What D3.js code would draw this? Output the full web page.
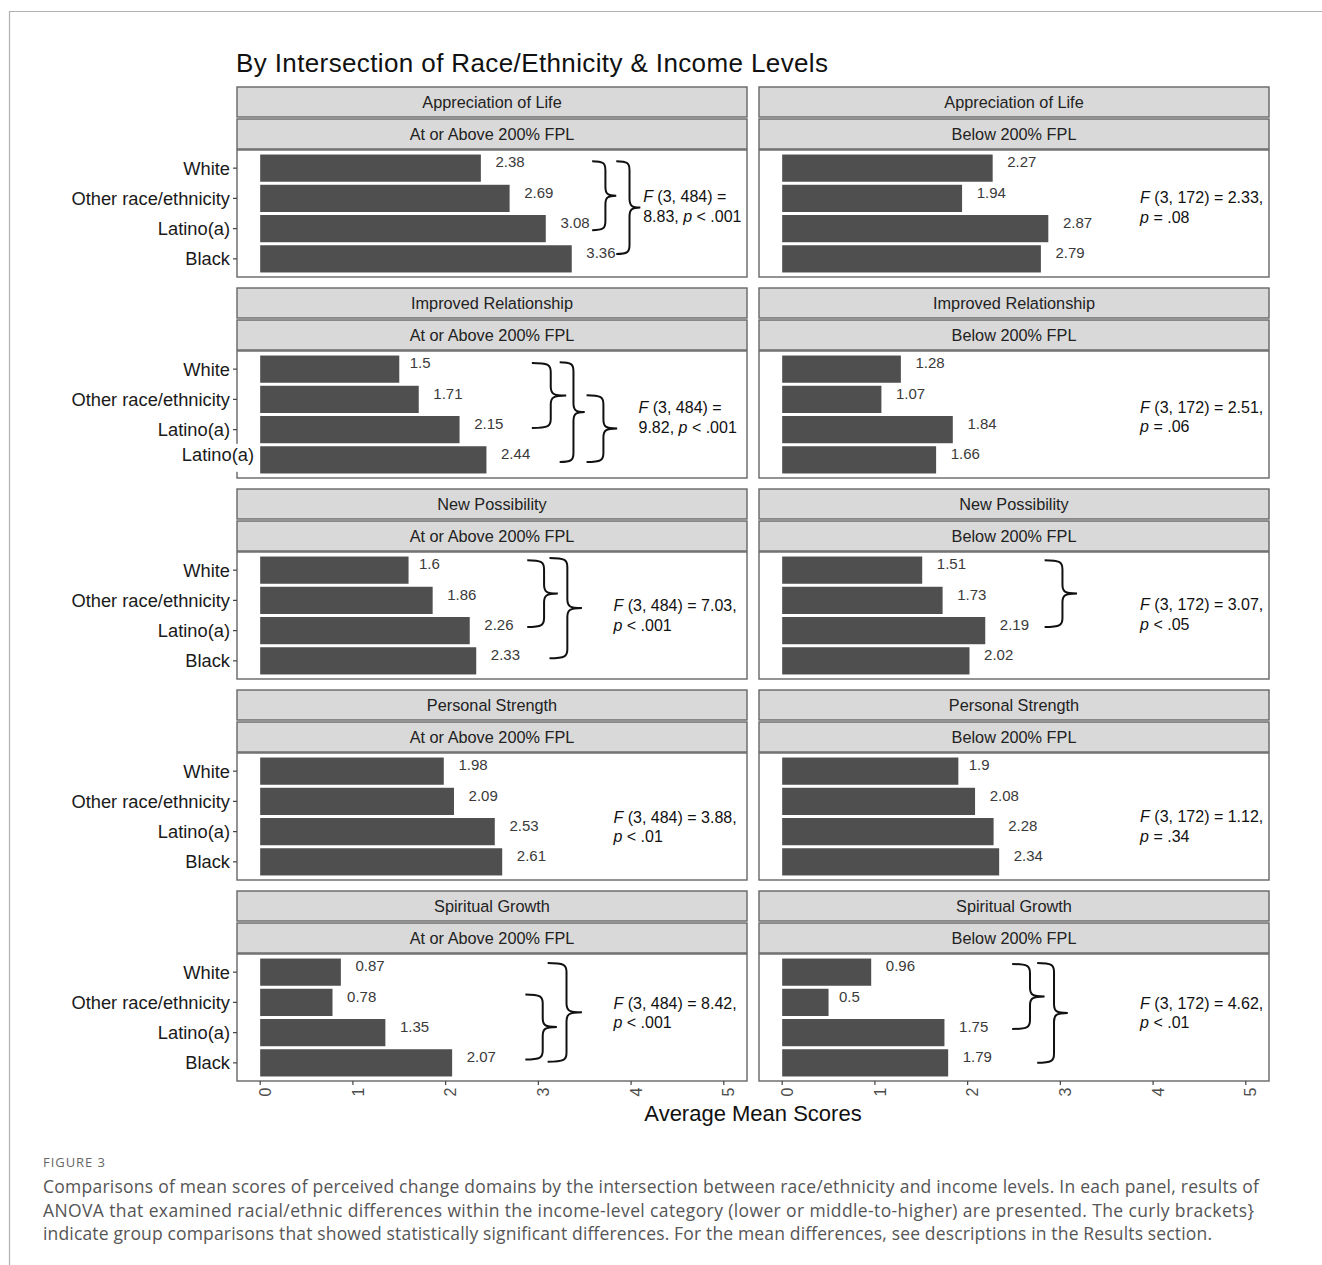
<!DOCTYPE html>
<html>
<head>
<meta charset="utf-8">
<script src="https://cdn.jsdelivr.net/npm/d3@7"></script>
<style>
  html, body { margin: 0; padding: 0; background: #fff; }
  svg { display: block; }
</style>
</head>
<body>
<svg id="chart" width="1322" height="1265"></svg>
<script>
// ---- data ----------------------------------------------------------------
const categories = ["White", "Other race/ethnicity", "Latino(a)", "Black"];
const domains = ["Appreciation of Life", "Improved Relationship", "New Possibility", "Personal Strength", "Spiritual Growth"];
const incomeLevels = ["At or Above 200% FPL", "Below 200% FPL"];

// mean scores, one row per domain, in category order
const aboveFPL = [
  [2.38, 2.69, 3.08, 3.36],
  [1.5, 1.71, 2.15, 2.44],
  [1.6, 1.86, 2.26, 2.33],
  [1.98, 2.09, 2.53, 2.61],
  [0.87, 0.78, 1.35, 2.07]
];
const belowFPL = [
  [2.27, 1.94, 2.87, 2.79],
  [1.28, 1.07, 1.84, 1.66],
  [1.51, 1.73, 2.19, 2.02],
  [1.9, 2.08, 2.28, 2.34],
  [0.96, 0.5, 1.75, 1.79]
];

// y tick labels printed for each domain row (the relationship row repeats "Latino(a)")
const rowTickLabels = [
  categories,
  ["White", "Other race/ethnicity", "Latino(a)", "Latino(a)"],
  categories,
  categories,
  categories
];

const xTicks = [0, 1, 2, 3, 4, 5];

// ANOVA results per domain
const anovaAbove = [
  ["F (3, 484) =", "8.83, p < .001"],
  ["F (3, 484) =", "9.82, p < .001"],
  ["F (3, 484) = 7.03,", "p < .001"],
  ["F (3, 484) = 3.88,", "p < .01"],
  ["F (3, 484) = 8.42,", "p < .001"]
];
const anovaBelow = [
  ["F (3, 172) = 2.33,", "p = .08"],
  ["F (3, 172) = 2.51,", "p = .06"],
  ["F (3, 172) = 3.07,", "p < .05"],
  ["F (3, 172) = 1.12,", "p = .34"],
  ["F (3, 172) = 4.62,", "p < .01"]
];
// annotation anchors in data units: [score, category index]
const anovaAnchorAbove = [[4.13, 1.27], [4.08, 1.6], [3.81, 1.5], [3.81, 1.84], [3.81, 1.34]];
const anovaAnchorBelow = [[3.86, 1.3], [3.86, 1.58], [3.86, 1.47], [3.86, 1.82], [3.86, 1.34]];

// curly brackets for significant pairwise comparisons:
// row, column, x start, x tip (score units), y from, y to (category index units)
const brackets = [
  [0, 0, 3.58, 3.84, -0.23, 2.05],
  [0, 0, 3.84, 4.10, -0.23, 2.84],
  [1, 0, 2.93, 3.30, -0.20, 1.95],
  [1, 0, 3.23, 3.50, -0.23, 3.07],
  [1, 0, 3.52, 3.85, 0.86, 3.07],
  [2, 0, 2.88, 3.21, -0.33, 1.88],
  [2, 0, 3.12, 3.47, -0.40, 2.91],
  [4, 0, 2.86, 3.20, 0.74, 2.89],
  [4, 0, 3.10, 3.47, -0.30, 2.96],
  [2, 1, 2.83, 3.18, -0.33, 1.88],
  [4, 1, 2.48, 2.83, -0.27, 1.88],
  [4, 1, 2.75, 3.08, -0.30, 3.00]
];

const captionLines = [
  "Comparisons of mean scores of perceived change domains by the intersection between race/ethnicity and income levels. In each panel, results of",
  "ANOVA that examined racial/ethnic differences within the income-level category (lower or middle-to-higher) are presented. The curly brackets}",
  "indicate group comparisons that showed statistically significant differences. For the mean differences, see descriptions in the Results section."
];
const captionWidths = [1216, 1211, 1169];

// ---- layout --------------------------------------------------------------
const FONT = "'Liberation Sans', Arial, Helvetica, sans-serif";
const colLeft = [237, 759];
const panelW = 510;
const rowTop = [87, 288, 489, 690, 891];
const stripH = 30, strip2Off = 32, panelOff = 63, panelH = 127;
const barFill = "#4f4f4f";
const frameStroke = "#666";

const svg = d3.select("#chart");

// outer frame lines
svg.append("line").attr("x1", 9).attr("x2", 1322).attr("y1", 11.5).attr("y2", 11.5)
  .attr("stroke", "#b0b0b0").attr("stroke-width", 1.2);
svg.append("line").attr("x1", 9.5).attr("x2", 9.5).attr("y1", 11).attr("y2", 1265)
  .attr("stroke", "#b0b0b0").attr("stroke-width", 1.2);

// title
svg.append("text").attr("x", 236).attr("y", 72)
  .attr("font-family", FONT).attr("font-size", 26).attr("fill", "#111")
  .attr("textLength", 592)
  .text("By Intersection of Race/Ethnicity & Income Levels");

const yScale = d3.scaleBand().domain(d3.range(categories.length))
  .range([0, panelH]).paddingInner(0.1).paddingOuter(0.15);
const yIdx = i => yScale.step() * (0.15 + i) + yScale.bandwidth() / 2; // continuous category index

function richText(sel, str) {
  str.split(/(\bF\b|\bp\b)/).filter(s => s.length).forEach(s => {
    const t = sel.append("tspan").text(s);
    if (s === "F" || s === "p") t.attr("font-style", "italic");
  });
}

function bracePath(x0, x1, y0, y1) {
  const w = x1 - x0, xm = x0 + w * 0.55, ym = (y0 + y1) / 2;
  const r = Math.min(9, (y1 - y0) / 4);
  return `M${x0},${y0} C${xm - 2},${y0} ${xm},${y0 + 2} ${xm},${y0 + r}` +
    ` L${xm},${ym - r} C${xm},${ym - 2} ${xm + 2},${ym} ${x1},${ym}` +
    ` C${xm + 2},${ym} ${xm},${ym + 2} ${xm},${ym + r}` +
    ` L${xm},${y1 - r} C${xm},${y1 - 2} ${xm - 2},${y1} ${x0},${y1}`;
}

domains.forEach((dom, r) => {
  [aboveFPL, belowFPL].forEach((series, c) => {
    const x0 = colLeft[c];
    const top = rowTop[r];
    const pTop = top + panelOff;
    const x = d3.scaleLinear().domain([-0.25, 5.25]).range([x0, x0 + panelW]);
    const g = svg.append("g");

    // strips
    [[top, dom], [top + strip2Off, incomeLevels[c]]].forEach(([sy, label]) => {
      g.append("rect").attr("x", x0).attr("y", sy).attr("width", panelW).attr("height", stripH)
        .attr("fill", "#d9d9d9").attr("stroke", frameStroke).attr("stroke-width", 1.4);
      g.append("text").attr("x", x0 + panelW / 2).attr("y", sy + stripH / 2).attr("dy", "0.35em")
        .attr("text-anchor", "middle").attr("font-family", FONT).attr("font-size", 16.3)
        .attr("fill", "#222").text(label);
    });

    // panel
    g.append("rect").attr("x", x0).attr("y", pTop).attr("width", panelW).attr("height", panelH)
      .attr("fill", "#fff").attr("stroke", frameStroke).attr("stroke-width", 1.4);

    const vals = series[r];
    g.selectAll("rect.bar").data(vals).join("rect").attr("class", "bar")
      .attr("x", x(0)).attr("y", (d, i) => pTop + yScale(i))
      .attr("width", d => x(d) - x(0)).attr("height", yScale.bandwidth())
      .attr("fill", barFill);

    // value labels (offset by half their own width, like hjust = -0.5)
    g.selectAll("text.val").data(vals).join("text").attr("class", "val")
      .attr("y", (d, i) => pTop + yScale(i) + yScale.bandwidth() / 2 - 6).attr("dy", "0.35em")
      .attr("font-family", FONT).attr("font-size", 15).attr("fill", "#3a3a3a")
      .text(d => String(d))
      .attr("x", function(d) { return x(d) + this.getComputedTextLength() / 2; });

    // brackets
    brackets.filter(b => b[0] === r && b[1] === c).forEach(b => {
      g.append("path").attr("d", bracePath(x(b[2]), x(b[3]), pTop + yIdx(b[4]), pTop + yIdx(b[5])))
        .attr("fill", "none").attr("stroke", "#111").attr("stroke-width", 2);
    });

    // ANOVA annotation
    const anchor = (c === 0 ? anovaAnchorAbove : anovaAnchorBelow)[r];
    const lines = (c === 0 ? anovaAbove : anovaBelow)[r];
    const cy = pTop + yIdx(anchor[1]);
    lines.forEach((ln, k) => {
      const t = g.append("text").attr("x", x(anchor[0])).attr("y", cy + (k - 0.5) * 19.5)
        .attr("dy", "0.35em").attr("font-family", FONT).attr("font-size", 16).attr("fill", "#111");
      richText(t, ln);
    });

    // y axis on the left column
    if (c === 0) {
      const labels = rowTickLabels[r];
      labels.forEach((lab, i) => {
        const cyb = pTop + yScale(i) + yScale.bandwidth() / 2;
        const displaced = r === 1 && i === 3;
        if (displaced) {
          g.append("rect").attr("x", 176).attr("y", cyb - 16).attr("width", 81).attr("height", 28)
            .attr("fill", "#fff");
          g.append("text").attr("x", 254).attr("y", cyb - 5).attr("dy", "0.35em")
            .attr("text-anchor", "end").attr("font-family", FONT).attr("font-size", 18.3)
            .attr("fill", "#1a1a1a").text(lab);
        } else {
          g.append("line").attr("x1", x0 - 4).attr("x2", x0).attr("y1", cyb).attr("y2", cyb)
            .attr("stroke", "#444").attr("stroke-width", 1.2);
          g.append("text").attr("x", x0 - 7).attr("y", cyb).attr("dy", "0.35em")
            .attr("text-anchor", "end").attr("font-family", FONT).attr("font-size", 18.3)
            .attr("fill", "#1a1a1a").text(lab);
        }
      });
    }

    // x axis under the bottom row
    if (r === domains.length - 1) {
      const yb = pTop + panelH;
      xTicks.forEach(t => {
        g.append("line").attr("x1", x(t)).attr("x2", x(t)).attr("y1", yb).attr("y2", yb + 4)
          .attr("stroke", "#444").attr("stroke-width", 1.2);
        g.append("text").attr("transform", `translate(${x(t) + 5},${yb + 11}) rotate(-90)`)
          .attr("text-anchor", "middle").attr("dy", "0.35em")
          .attr("font-family", FONT).attr("font-size", 16).attr("fill", "#4d4d4d").text(t);
      });
    }
  });
});

// x axis title
svg.append("text").attr("x", (colLeft[0] + colLeft[1] + panelW) / 2).attr("y", 1121)
  .attr("text-anchor", "middle").attr("font-family", FONT).attr("font-size", 22).attr("fill", "#111")
  .text("Average Mean Scores");

// figure caption
const CAP_FONT = "'Open Sans', Lato, sans-serif";
svg.append("text").attr("x", 43).attr("y", 1167)
  .attr("font-family", CAP_FONT).attr("font-size", 13).attr("fill", "#666")
  .attr("textLength", 62)
  .text("FIGURE 3");
captionLines.forEach((ln, i) => {
  svg.append("text").attr("x", 43).attr("y", 1193 + i * 23.5)
    .attr("font-family", CAP_FONT).attr("font-size", 17.5).attr("fill", "#555")
    .attr("textLength", captionWidths[i])
    .text(ln);
});
</script>
</body>
</html>
